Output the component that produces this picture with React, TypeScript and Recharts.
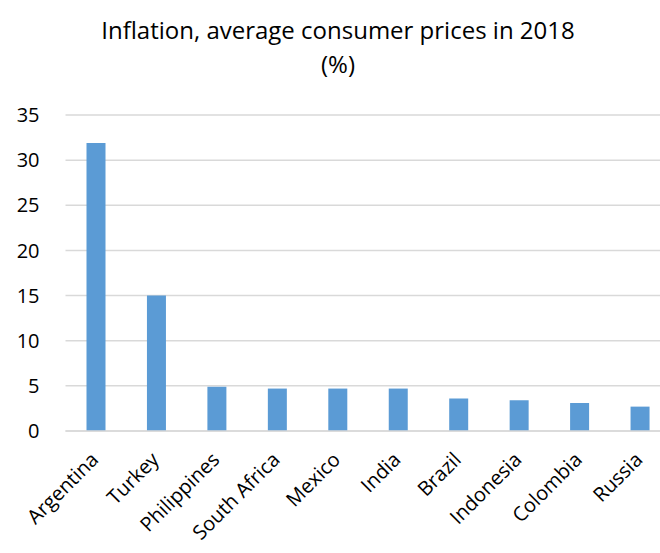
import React from 'react';
import { BarChart, Bar, XAxis, YAxis, CartesianGrid } from 'recharts';

const countries = [
  'Argentina',
  'Turkey',
  'Philippines',
  'South Africa',
  'Mexico',
  'India',
  'Brazil',
  'Indonesia',
  'Colombia',
  'Russia',
];
const inflation = [31.9, 15.0, 4.9, 4.7, 4.7, 4.7, 3.6, 3.4, 3.1, 2.7];
const yTicks = [0, 5, 10, 15, 20, 25, 30, 35];

const data = countries.map((name, i) => ({ name, value: inflation[i] }));

const FONT = '"Open Sans", sans-serif';

const CountryTick = (props: any) => {
  const { x, y, payload } = props;
  return (
    <g transform={`translate(${x + 4},${y})`}>
      <text
        x={0}
        y={0}
        textAnchor="end"
        transform="rotate(-45)"
        fill="#000"
        fontSize={20}
        fontFamily={FONT}
      >
        {payload.value}
      </text>
    </g>
  );
};

const App = () => {
  return (
    <div style={{ position: 'relative', width: 660, height: 553, overflow: 'hidden', background: '#fff', fontFamily: FONT }}>
      <style>{`body { margin: 0; }`}</style>
      <div
        style={{
          position: 'absolute',
          top: 13,
          left: 338 - 300,
          width: 600,
          textAlign: 'center',
          fontSize: 24,
          lineHeight: '34px',
          color: '#000',
        }}
      >
        Inflation, average consumer prices in 2018
        <br />
        (%)
      </div>
      <BarChart
        width={670}
        height={553}
        data={data}
        margin={{ top: 115, right: 0, left: 0, bottom: 0 }}
      >
        <CartesianGrid vertical={false} stroke="#d9d9d9" strokeWidth={1.5} />
        <XAxis
          dataKey="name"
          interval={0}
          height={122}
          tickLine={false}
          axisLine={{ stroke: '#d9d9d9', strokeWidth: 1.5 }}
          tick={<CountryTick />}
          tickMargin={24}
        />
        <YAxis
          domain={[0, 35]}
          ticks={yTicks}
          width={65.5}
          tickLine={false}
          axisLine={false}
          tickSize={0}
          tickMargin={26}
          tick={{ fill: '#000', fontSize: 20, fontFamily: FONT }}
        />
        <Bar dataKey="value" fill="#5b9bd5" barSize={19} isAnimationActive={false} />
      </BarChart>
    </div>
  );
};

export default App;
